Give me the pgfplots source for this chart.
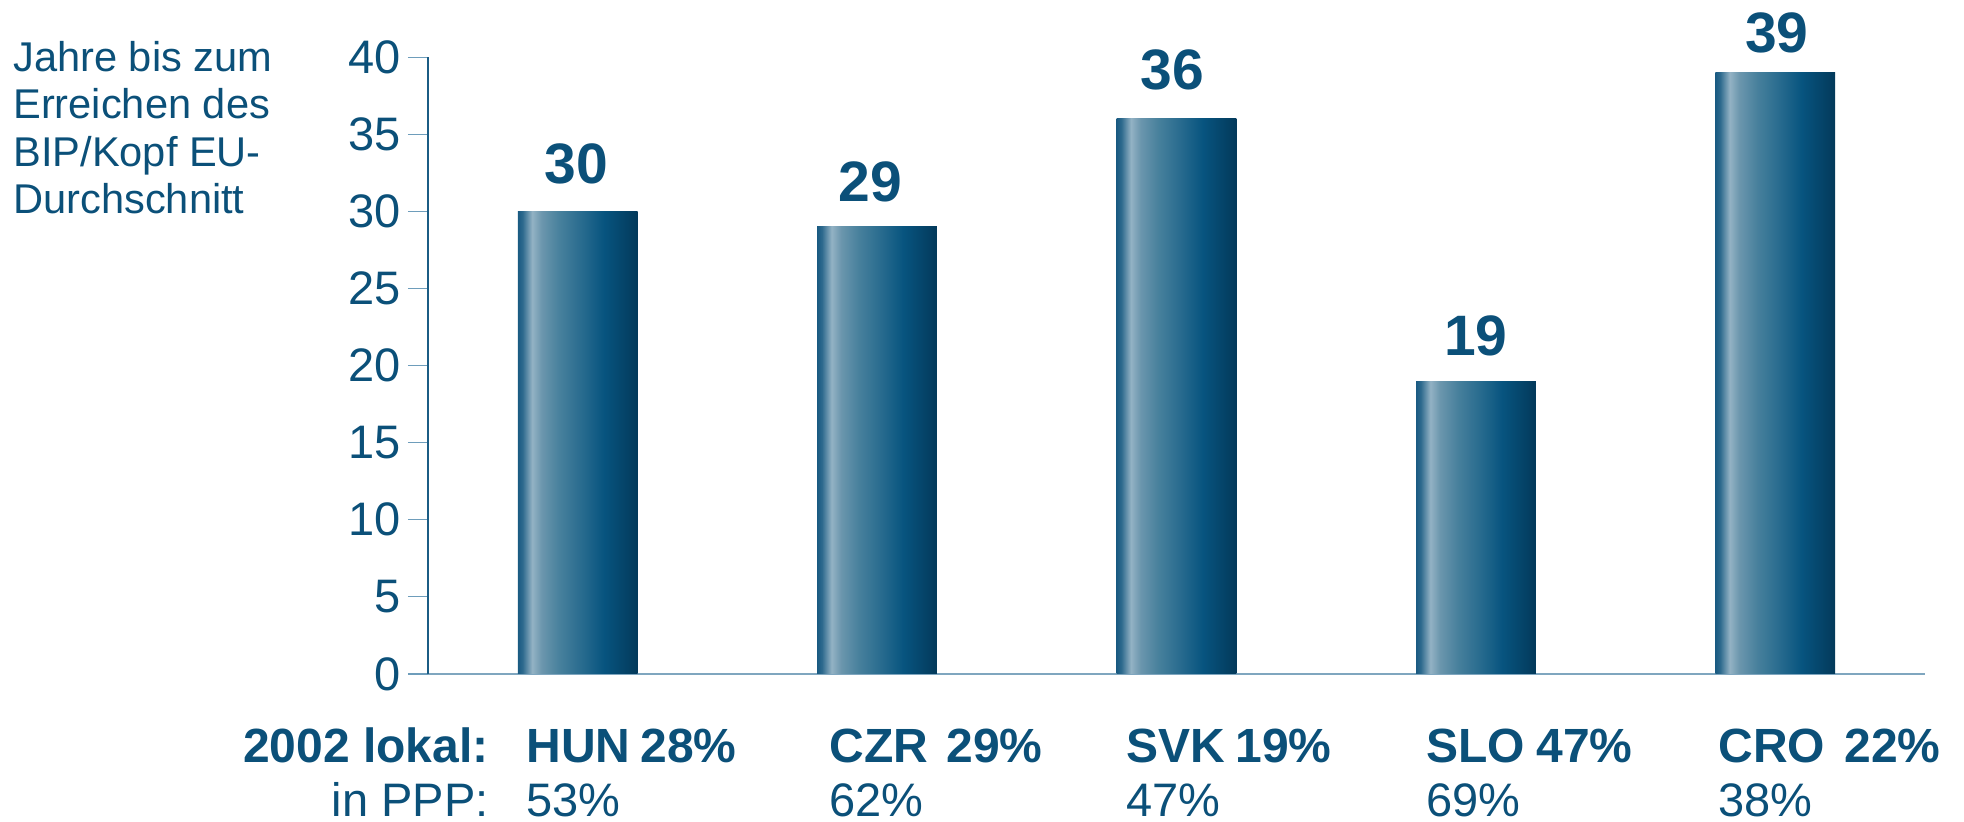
\documentclass[border=0pt]{standalone}
\usepackage{fontspec}
\setmainfont{Liberation Sans}
\usepackage{pgfplots}
\pgfplotsset{compat=1.18}
\definecolor{txt}{HTML}{0B5079}
\definecolor{tickc}{HTML}{6E9DBB}
\definecolor{yax}{HTML}{1B5C84}
\definecolor{xax}{HTML}{7FA6BF}
\definecolor{s0}{HTML}{195A82}
\definecolor{s1}{HTML}{2E6A8E}
\definecolor{s2}{HTML}{93B2C4}
\definecolor{s3}{HTML}{6B96AD}
\definecolor{s4}{HTML}{47809C}
\definecolor{s5}{HTML}{25698D}
\definecolor{s6}{HTML}{07547F}
\definecolor{s7}{HTML}{03395A}
\pgfdeclarehorizontalshading{barshade}{100bp}{color(0bp)=(s0); color(25bp)=(s0); color(27bp)=(s1); color(31bp)=(s2); color(35bp)=(s3); color(42.5bp)=(s4); color(52.5bp)=(s5); color(61bp)=(s6); color(75bp)=(s7); color(100bp)=(s7)}
\pgfplotsset{
  mybar/.style 2 args={ybar, bar width=0.4, draw=none, shading=barshade,
    nodes near coords,
    nodes near coords style={font=\fontsize{28.5}{30}\selectfont\bfseries, text=txt, anchor=base, inner sep=0pt, yshift=#1, xshift=#2}},
}
\begin{document}
\begin{tikzpicture}
\begin{axis}[
  scale only axis,
  width=748.5pt, height=308.35pt,
  xmin=-0.5, xmax=4.5, ymin=0, ymax=40,
  clip=false,
  axis x line*=bottom, axis y line*=left,
  x axis line style={color=xax, line width=0.6pt},
  y axis line style={color=yax, line width=0.6pt},
  xtick=\empty,
  ytick={0,5,...,40},
  tick align=outside,
  major tick length=10pt,
  tick style={color=tickc, line width=0.6pt},
  /pgf/number format/assume math mode=true,
  tick label style={font=\fontsize{23.5}{24}\selectfont, text=txt},
]
\addplot[mybar={14pt}{-0.5pt}] coordinates {(0,30)};
\addplot[mybar={12.5pt}{-3.5pt}] coordinates {(1,29)};
\addplot[mybar={14.5pt}{-2pt}] coordinates {(2,36)};
\addplot[mybar={13pt}{0pt}] coordinates {(3,19)};
\addplot[mybar={10pt}{0.8pt}] coordinates {(4,39)};

\coordinate (BL) at (axis cs:-1.9295,-9.6);
\coordinate (TR) at (axis cs:4.6303,43.716);

% left label
\begin{scope}[every node/.style={font=\fontsize{20.8}{23}\selectfont, text=txt, anchor=base west, inner sep=0pt}]
\node at (axis cs:-1.8861,39.07) {Jahre bis zum};
\node at (axis cs:-1.8861,36.0) {Erreichen des};
\node at (axis cs:-1.8861,32.9) {BIP/Kopf EU-};
\node at (axis cs:-1.8861,29.88) {Durchschnitt};
\end{scope}

% bottom labels
\begin{scope}[every node/.style={font=\fontsize{24}{25}\selectfont\bfseries, text=txt, inner sep=0pt}]
\node[anchor=base east] at (axis cs:-0.2963,-5.77) {2002 lokal:};
\node[anchor=base west] at (axis cs:-0.1727,-5.77) {HUN};
\node[anchor=base east] at (axis cs:0.5321,-5.77) {28\%};
\node[anchor=base west] at (axis cs:0.8393,-5.77) {CZR};
\node[anchor=base east] at (axis cs:1.5541,-5.77) {29\%};
\node[anchor=base west] at (axis cs:1.8313,-5.77) {SVK};
\node[anchor=base east] at (axis cs:2.5194,-5.77) {19\%};
\node[anchor=base west] at (axis cs:2.8333,-5.77) {SLO};
\node[anchor=base east] at (axis cs:3.5247,-5.77) {47\%};
\node[anchor=base west] at (axis cs:3.8086,-5.77) {CRO};
\node[anchor=base east] at (axis cs:4.5534,-5.77) {22\%};
\end{scope}
\begin{scope}[every node/.style={font=\fontsize{23.5}{25}\selectfont, text=txt, inner sep=0pt}]
\node[anchor=base east] at (axis cs:-0.2963,-9.25) {in PPP:};
\node[anchor=base west] at (axis cs:-0.1727,-9.25) {53\%};
\node[anchor=base west] at (axis cs:0.8393,-9.25) {62\%};
\node[anchor=base west] at (axis cs:1.8313,-9.25) {47\%};
\node[anchor=base west] at (axis cs:2.8333,-9.25) {69\%};
\node[anchor=base west] at (axis cs:3.8086,-9.25) {38\%};
\end{scope}
\end{axis}
\pgfresetboundingbox
\useasboundingbox (BL) rectangle (TR);
\end{tikzpicture}
\end{document}
